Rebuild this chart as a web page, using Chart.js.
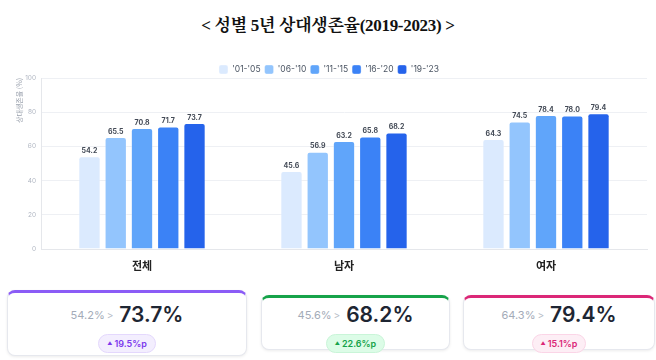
<!DOCTYPE html>
<html lang="ko">
<head>
<meta charset="utf-8">
<script src="https://cdn.jsdelivr.net/npm/chart.js@4.4.1/dist/chart.umd.min.js"></script>
<style>
  html, body { margin: 0; padding: 0; background: #fff; }
  body { width: 656px; height: 360px; position: relative; overflow: hidden; font-family: Inter, "Noto Sans CJK KR", sans-serif; }
  #title { position: absolute; left: 0; top: 11px; width: 656px; text-align: center; font-family: "Liberation Serif", "Noto Serif CJK KR", serif; font-weight: bold; font-size: 17px; color: #111; letter-spacing: -0.3px; }
  #chartBox { position: absolute; left: 0; top: 50px; width: 656px; height: 221px; }
  .card { position: absolute; background: #fff; border: 1px solid #e6e8ee; border-top-width: 3px; border-radius: 8px; box-shadow: 0 1px 3px rgba(0,0,0,0.08); box-sizing: border-box; }
  .row { position: absolute; left: 0; width: 100%; text-align: center; white-space: nowrap; }
  .from { font-size: 11px; color: #a3abb8; vertical-align: middle; }
  .arrow { font-size: 10px; color: #b7bdc8; margin: 0 6px 0 2px; vertical-align: middle; }
  .to { font-size: 21px; font-weight: 600; color: #1e2633; vertical-align: middle; }
  .badge { display: inline-block; font-size: 9px; font-weight: 600; padding: 3px 8px; border-radius: 10px; border: 1px solid; }
  .tri { font-size: 5px; vertical-align: 2px; margin-right: 2px; }
</style>
</head>
<body>
<div id="title">&lt; 성별 5년 상대생존율(2019-2023) &gt;</div>
<div id="chartBox"><canvas id="chart"></canvas></div>
<div id="cards"></div>
<script>
const categories = ['전체', '남자', '여자'];
const periods = ["'01-'05", "'06-'10", "'11-'15", "'16-'20", "'19-'23"];
const val0105 = [54.2, 45.6, 64.3];
const val0610 = [65.5, 56.9, 74.5];
const val1115 = [70.8, 63.2, 78.4];
const val1620 = [71.7, 65.8, 78.0];
const val1923 = [73.7, 68.2, 79.4];
const yTicks = [0, 20, 40, 60, 80, 100];
const changeP = [19.5, 22.6, 15.1];

const colors = ['#dbeafe', '#93c5fd', '#60a5fa', '#3b82f6', '#2563eb'];
const seriesList = [val0105, val0610, val1115, val1620, val1923];

// value labels above each bar
const barLabels = {
    id: 'barLabels',
    afterDatasetsDraw(chart) {
        const ctx = chart.ctx;
        ctx.save();
        ctx.font = 'bold 7px Inter, sans-serif';
        ctx.fillStyle = '#444b57';
        ctx.textAlign = 'center';
        ctx.textBaseline = 'bottom';
        chart.data.datasets.forEach((ds, i) => {
            chart.getDatasetMeta(i).data.forEach((bar, j) => {
                ctx.fillText(ds.data[j].toFixed(1), bar.x, bar.y - 2);
            });
        });
        ctx.restore();
    }
};

// make the legend box shorter so the plot sits closer to it
const legendHeight = {
    id: 'legendHeight',
    beforeInit(chart) {
        const fit = chart.legend.fit;
        chart.legend.fit = function () {
            fit.call(this);
            this.height = 17;
        };
    }
};

new Chart(document.getElementById('chart'), {
    type: 'bar',
    data: {
        labels: categories,
        datasets: seriesList.map((s, i) => ({
            label: periods[i],
            data: s,
            backgroundColor: colors[i],
            borderColor: 'rgba(255,255,255,0.35)',
            borderWidth: 1,
            borderRadius: 3,
            categoryPercentage: 0.65,
            barPercentage: 0.85
        }))
    },
    options: {
        responsive: true,
        maintainAspectRatio: false,
        animation: false,
        layout: { padding: { left: 11, right: 9, top: 11, bottom: 0 } },
        plugins: {
            legend: {
                position: 'top',
                labels: {
                    boxWidth: 9, boxHeight: 9, padding: 4,
                    useBorderRadius: true, borderRadius: 2,
                    color: '#4b5563',
                    font: { size: 8.5, family: 'Inter, sans-serif' }
                }
            },
            tooltip: { enabled: false }
        },
        scales: {
            x: {
                afterFit: (axis) => { axis.height = 22; },
                grid: { display: false, drawTicks: false },
                border: { color: '#e5e7eb' },
                ticks: { color: '#222', font: { size: 11, weight: 'bold', family: '"Noto Sans CJK KR", sans-serif' }, padding: 10 }
            },
            y: {
                min: 0, max: 100,
                afterFit: (axis) => { axis.width = 30; },
                afterBuildTicks: (axis) => { axis.ticks = yTicks.map(v => ({ value: v })); },
                grid: { color: '#eef0f4', drawTicks: false },
                border: { color: '#e5e7eb' },
                ticks: { color: '#b0b6c2', font: { size: 6.5, family: 'Inter, sans-serif' }, padding: 5 },
                title: { display: true, text: '상대생존율 (%)', align: 'end', color: '#9aa1ad', font: { size: 7, family: '"Noto Sans CJK KR", sans-serif' }, padding: { top: 4, bottom: 3 } }
            }
        }
    },
    plugins: [barLabels, legendHeight]
});

// summary cards under the chart
const cardBoxes = [
    { left: 7, top: 290, width: 240, height: 66, color: '#8b5cf6', text: '#7c3aed', bg: '#f3eefe', bd: '#e4d8fd' },
    { left: 261, top: 295, width: 189, height: 55, color: '#16a34a', text: '#16a34a', bg: '#dcfce7', bd: '#c9f5d8' },
    { left: 463, top: 295, width: 192, height: 55, color: '#db2777', text: '#db2777', bg: '#fdeef5', bd: '#fbd5e7' }
];
const cards = document.getElementById('cards');
cardBoxes.forEach((b, i) => {
    const c = document.createElement('div');
    c.className = 'card';
    Object.assign(c.style, { left: b.left + 'px', top: b.top + 'px', width: b.width + 'px', height: b.height + 'px', borderTopColor: b.color });
    const off = 313 - b.top;
    c.innerHTML =
        '<div class="row" style="top:' + (off - 14) + 'px"><span class="from">' + val0105[i].toFixed(1) + '%</span>' +
        '<span class="arrow">&gt;</span><span class="to">' + val1923[i].toFixed(1) + '%</span></div>' +
        '<div class="row" style="top:' + (off + 15) + 'px"><span class="badge" style="color:' + b.text + ';background:' + b.bg + ';border-color:' + b.bd + '">' +
        '<span class="tri">&#9650;</span>' + changeP[i].toFixed(1) + '%p</span></div>';
    cards.appendChild(c);
});
</script>
</body>
</html>
